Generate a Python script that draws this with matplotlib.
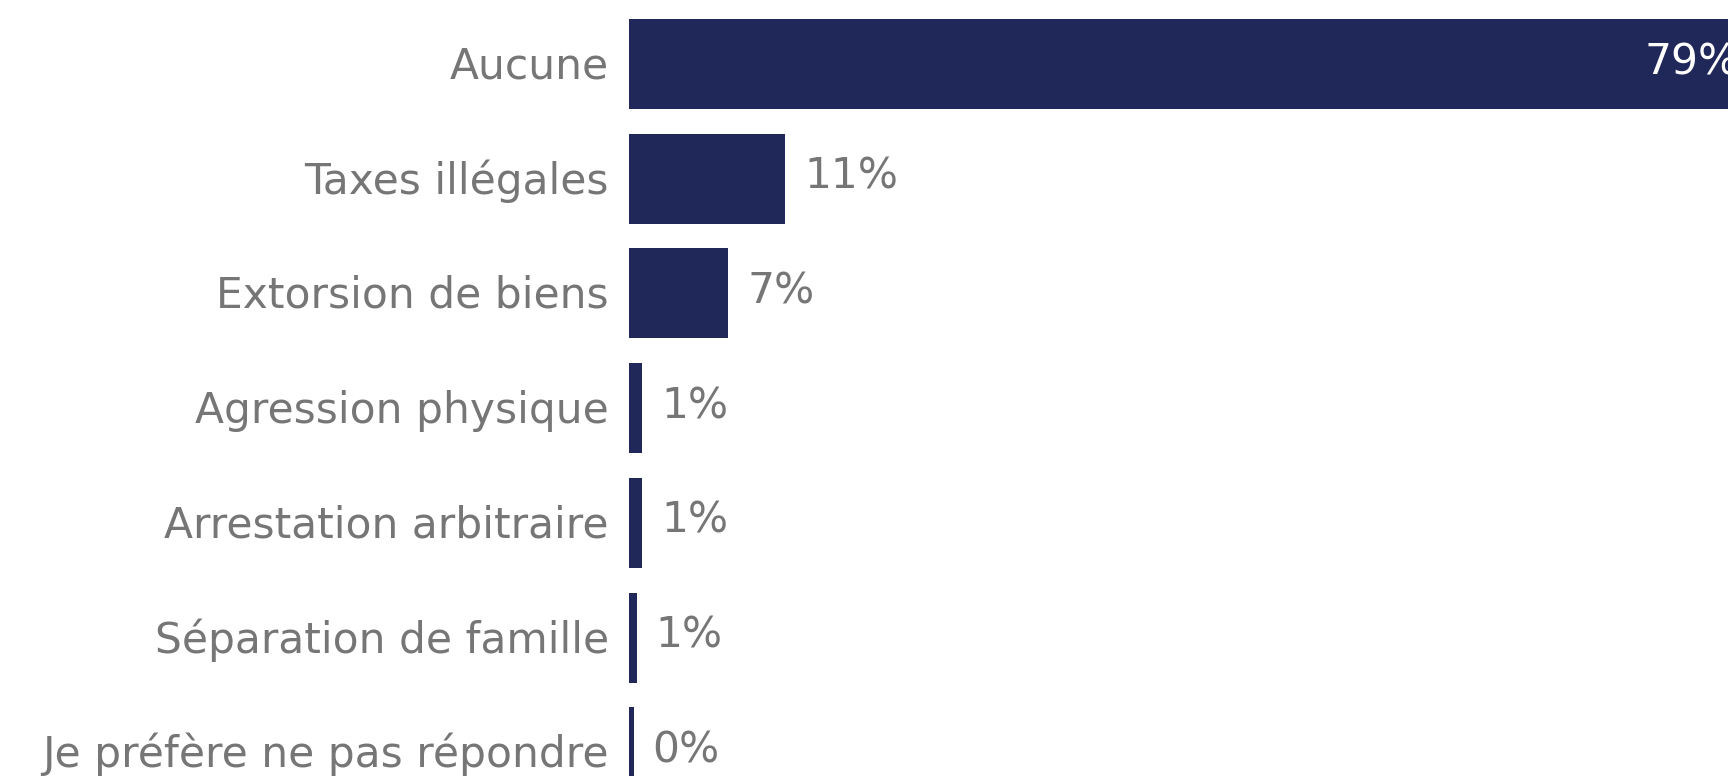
import matplotlib
matplotlib.use("Agg")
import matplotlib.pyplot as plt
from matplotlib.transforms import ScaledTranslation

categories = ["Aucune", "Taxes illégales", "Extorsion de biens", "Agression physique",
              "Arrestation arbitraire", "Séparation de famille", "Je préfère ne pas répondre"]
values = [79, 11, 7, 0.95, 0.95, 0.55, 0.35]
labels = ["79%", "11%", "7%", "1%", "1%", "1%", "0%"]

W, H, DPI = 1728, 776, 100
fig = plt.figure(figsize=(W / DPI, H / DPI), dpi=DPI)
plt.rcParams['font.family'] = ['DejaVu Sans']

# axes placed in pixel space (chart is cropped at right and bottom)
left_px = 629
px_per_unit = 14.2
xmax = 82
step = 114.7
top_px = 64 - step / 2
bottom_px = top_px + step * len(categories)
ax = fig.add_axes([left_px / W, 1 - bottom_px / H, xmax * px_per_unit / W, (bottom_px - top_px) / H])

bar_color = "#20285a"
text_color = "#767676"
fs = 30.5

ypos = list(range(len(categories)))
ax.barh(ypos, values, height=90 / step, color=bar_color)
ax.set_xlim(0, xmax)
ax.set_ylim(len(categories) - 0.5, -0.5)
ax.set_yticks(ypos)
ax.set_yticklabels(categories, fontsize=fs, color=text_color)
ax.tick_params(axis='y', length=0, pad=14.4)
ax.set_xticks([])
for s in ax.spines.values():
    s.set_visible(False)
up = ScaledTranslation(0, 2 / DPI, fig.dpi_scale_trans)
for t in ax.get_yticklabels():
    t.set_transform(t.get_transform() + up)

for i, (v, lab) in enumerate(zip(values, labels)):
    if v > 40:
        ax.annotate(lab, (v, i), xytext=(-8.6, 1.4), textcoords='offset points',
                    ha='right', va='center', fontsize=fs, color='white')
    else:
        ax.annotate(lab, (v, i), xytext=(13.5, 1.4), textcoords='offset points',
                    ha='left', va='center', fontsize=fs, color=text_color)

fig.savefig("out.png", dpi=DPI)
